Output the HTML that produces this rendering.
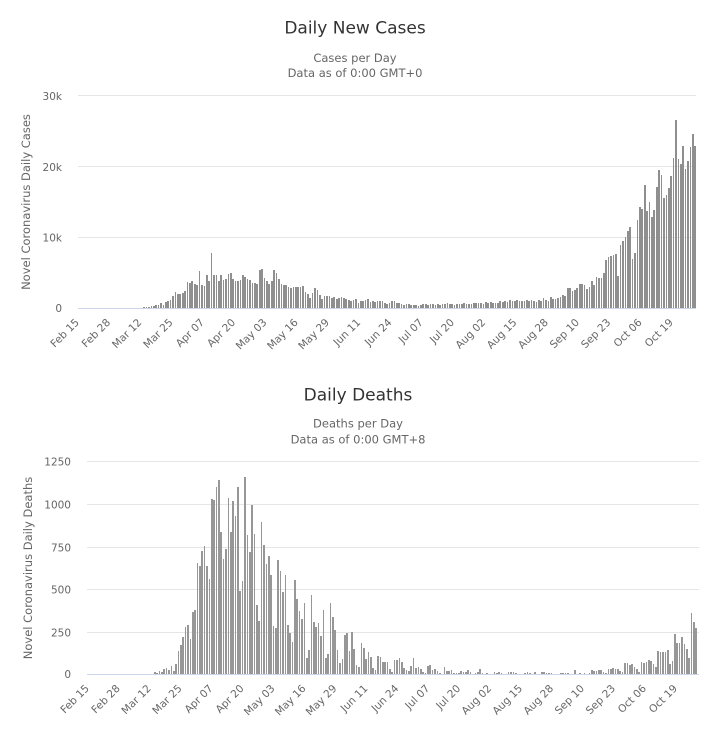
<!DOCTYPE html>
<html><head><meta charset="utf-8">
<style>
html,body{margin:0;padding:0}
body{width:728px;height:735px;background:#fff;position:relative;overflow:hidden;font-family:"DejaVu Sans","Liberation Sans",sans-serif}
svg{position:absolute;left:0;top:0}
.bars{position:absolute;display:flex;align-items:flex-end}
.bars i{flex:1 1 0;min-width:0;margin:0 0.38px;display:block}
#b1 i{background:#8f8f8f}
#b2 i{background:#979797}
.base{position:absolute;height:1px;background:#ccd6eb}
</style></head><body>
<svg width="728" height="735" xmlns="http://www.w3.org/2000/svg" font-family="DejaVu Sans, Liberation Sans, sans-serif">
  <!-- TOP CHART -->
  <text x="355" y="33.5" text-anchor="middle" font-size="17" fill="#333333">Daily New Cases</text>
  <text x="355" y="62" text-anchor="middle" font-size="11.5" fill="#666666">Cases per Day</text>
  <text x="355" y="77" text-anchor="middle" font-size="11.5" fill="#666666">Data as of 0:00 GMT+0</text>
  <g stroke="#e6e6e6" stroke-width="1">
    <line x1="78" x2="696" y1="95.5" y2="95.5"/>
    <line x1="78" x2="696" y1="166.5" y2="166.5"/>
    <line x1="78" x2="696" y1="237.5" y2="237.5"/>
  </g>
  <g font-size="10.5" fill="#666666" text-anchor="end">
    <text x="62" y="100">30k</text>
    <text x="62" y="171">20k</text>
    <text x="62" y="241.5">10k</text>
    <text x="62" y="312">0</text>
  </g>
  <text transform="translate(30,202) rotate(-90)" text-anchor="middle" font-size="11.5" fill="#666666">Novel Coronavirus Daily Cases</text>
  <g font-size="10.5" fill="#666666" text-anchor="end">
    <text x="79.7" y="323" transform="rotate(-45 79.7 323)">Feb 15</text>
    <text x="111" y="323" transform="rotate(-45 111 323)">Feb 28</text>
    <text x="142.2" y="323" transform="rotate(-45 142.2 323)">Mar 12</text>
    <text x="173.5" y="323" transform="rotate(-45 173.5 323)">Mar 25</text>
    <text x="204.8" y="323" transform="rotate(-45 204.8 323)">Apr 07</text>
    <text x="236" y="323" transform="rotate(-45 236 323)">Apr 20</text>
    <text x="267.3" y="323" transform="rotate(-45 267.3 323)">May 03</text>
    <text x="298.6" y="323" transform="rotate(-45 298.6 323)">May 16</text>
    <text x="329.8" y="323" transform="rotate(-45 329.8 323)">May 29</text>
    <text x="361.1" y="323" transform="rotate(-45 361.1 323)">Jun 11</text>
    <text x="392.4" y="323" transform="rotate(-45 392.4 323)">Jun 24</text>
    <text x="423.6" y="323" transform="rotate(-45 423.6 323)">Jul 07</text>
    <text x="454.9" y="323" transform="rotate(-45 454.9 323)">Jul 20</text>
    <text x="486.1" y="323" transform="rotate(-45 486.1 323)">Aug 02</text>
    <text x="517.4" y="323" transform="rotate(-45 517.4 323)">Aug 15</text>
    <text x="548.7" y="323" transform="rotate(-45 548.7 323)">Aug 28</text>
    <text x="579.9" y="323" transform="rotate(-45 579.9 323)">Sep 10</text>
    <text x="611.2" y="323" transform="rotate(-45 611.2 323)">Sep 23</text>
    <text x="642.5" y="323" transform="rotate(-45 642.5 323)">Oct 06</text>
    <text x="673.7" y="323" transform="rotate(-45 673.7 323)">Oct 19</text>
  </g>

  <!-- BOTTOM CHART -->
  <text x="358" y="400.5" text-anchor="middle" font-size="17" fill="#333333">Daily Deaths</text>
  <text x="358" y="427.5" text-anchor="middle" font-size="11.5" fill="#666666">Deaths per Day</text>
  <text x="358" y="443.5" text-anchor="middle" font-size="11.5" fill="#666666">Data as of 0:00 GMT+8</text>
  <g stroke="#e6e6e6" stroke-width="1">
    <line x1="87" x2="699" y1="461.5" y2="461.5"/>
    <line x1="87" x2="699" y1="504.5" y2="504.5"/>
    <line x1="87" x2="699" y1="547.5" y2="547.5"/>
    <line x1="87" x2="699" y1="589.5" y2="589.5"/>
    <line x1="87" x2="699" y1="632.5" y2="632.5"/>
  </g>
  <g font-size="10.5" fill="#666666" text-anchor="end">
    <text x="71" y="465.5">1250</text>
    <text x="71" y="508.5">1000</text>
    <text x="71" y="551.5">750</text>
    <text x="71" y="593.5">500</text>
    <text x="71" y="636.5">250</text>
    <text x="71" y="678">0</text>
  </g>
  <text transform="translate(32,568) rotate(-90)" text-anchor="middle" font-size="11.5" fill="#666666">Novel Coronavirus Daily Deaths</text>
  <g font-size="10.5" fill="#666666" text-anchor="end">
    <text x="89.7" y="689" transform="rotate(-45 89.7 689)">Feb 15</text>
    <text x="120.6" y="689" transform="rotate(-45 120.6 689)">Feb 28</text>
    <text x="151.6" y="689" transform="rotate(-45 151.6 689)">Mar 12</text>
    <text x="182.5" y="689" transform="rotate(-45 182.5 689)">Mar 25</text>
    <text x="213.5" y="689" transform="rotate(-45 213.5 689)">Apr 07</text>
    <text x="244.5" y="689" transform="rotate(-45 244.5 689)">Apr 20</text>
    <text x="275.4" y="689" transform="rotate(-45 275.4 689)">May 03</text>
    <text x="306.4" y="689" transform="rotate(-45 306.4 689)">May 16</text>
    <text x="337.3" y="689" transform="rotate(-45 337.3 689)">May 29</text>
    <text x="368.3" y="689" transform="rotate(-45 368.3 689)">Jun 11</text>
    <text x="399.2" y="689" transform="rotate(-45 399.2 689)">Jun 24</text>
    <text x="430.2" y="689" transform="rotate(-45 430.2 689)">Jul 07</text>
    <text x="461.1" y="689" transform="rotate(-45 461.1 689)">Jul 20</text>
    <text x="492.1" y="689" transform="rotate(-45 492.1 689)">Aug 02</text>
    <text x="523" y="689" transform="rotate(-45 523 689)">Aug 15</text>
    <text x="554" y="689" transform="rotate(-45 554 689)">Aug 28</text>
    <text x="584.9" y="689" transform="rotate(-45 584.9 689)">Sep 10</text>
    <text x="615.9" y="689" transform="rotate(-45 615.9 689)">Sep 23</text>
    <text x="646.8" y="689" transform="rotate(-45 646.8 689)">Oct 06</text>
    <text x="677.8" y="689" transform="rotate(-45 677.8 689)">Oct 19</text>
  </g>
</svg>

<div class="bars" id="b1" style="left:78px;top:108px;width:618px;height:200px">
<i style="height:0"></i><i style="height:0"></i><i style="height:0"></i><i style="height:0"></i><i style="height:0"></i><i style="height:0"></i><i style="height:0"></i><i style="height:0"></i><i style="height:0"></i><i style="height:0"></i><i style="height:0"></i><i style="height:0"></i><i style="height:0"></i><i style="height:0"></i><i style="height:0"></i><i style="height:0"></i><i style="height:0"></i><i style="height:0"></i><i style="height:0"></i><i style="height:0"></i><i style="height:0"></i><i style="height:0"></i><i style="height:0"></i><i style="height:0"></i><i style="height:0"></i><i style="height:0"></i>
<i style="height:0.3px"></i><i style="height:0.7px"></i><i style="height:0.7px"></i><i style="height:1px"></i><i style="height:1.7px"></i><i style="height:2.3px"></i><i style="height:2.7px"></i><i style="height:3.3px"></i><i style="height:4.7px"></i><i style="height:3.3px"></i>
<i style="height:6px"></i><i style="height:7.3px"></i><i style="height:7.7px"></i><i style="height:12px"></i><i style="height:16px"></i><i style="height:14.3px"></i><i style="height:14.3px"></i><i style="height:15.3px"></i><i style="height:17.3px"></i><i style="height:26.3px"></i>
<i style="height:25.3px"></i><i style="height:27px"></i><i style="height:24.3px"></i><i style="height:22.7px"></i><i style="height:36.7px"></i><i style="height:22.7px"></i><i style="height:22px"></i><i style="height:33.3px"></i><i style="height:27px"></i><i style="height:55px"></i>
<i style="height:32.7px"></i><i style="height:32.7px"></i><i style="height:26.7px"></i><i style="height:32.7px"></i><i style="height:27.7px"></i><i style="height:29.3px"></i><i style="height:34.3px"></i><i style="height:35.3px"></i><i style="height:28.7px"></i><i style="height:26.7px"></i>
<i style="height:27.3px"></i><i style="height:28.3px"></i><i style="height:33px"></i><i style="height:31px"></i><i style="height:29.3px"></i><i style="height:28px"></i><i style="height:25px"></i><i style="height:25px"></i><i style="height:24.3px"></i><i style="height:38.3px"></i>
<i style="height:39px"></i><i style="height:30px"></i><i style="height:27px"></i><i style="height:24.3px"></i><i style="height:26.7px"></i><i style="height:37.7px"></i><i style="height:35.3px"></i><i style="height:29.3px"></i><i style="height:24px"></i><i style="height:23.3px"></i>
<i style="height:23.3px"></i><i style="height:21px"></i><i style="height:20px"></i><i style="height:21px"></i><i style="height:21.3px"></i><i style="height:20.7px"></i><i style="height:21px"></i><i style="height:21.7px"></i><i style="height:16px"></i><i style="height:14px"></i>
<i style="height:10px"></i><i style="height:15.3px"></i><i style="height:19.7px"></i><i style="height:17.7px"></i><i style="height:12.7px"></i><i style="height:9.3px"></i><i style="height:12px"></i><i style="height:12px"></i><i style="height:11.7px"></i>
<i style="height:10px"></i><i style="height:11px"></i><i style="height:9.3px"></i><i style="height:10.3px"></i><i style="height:11px"></i><i style="height:10.3px"></i><i style="height:9.3px"></i><i style="height:7.7px"></i><i style="height:6.7px"></i><i style="height:8px"></i>
<i style="height:9.3px"></i><i style="height:5.3px"></i><i style="height:7px"></i><i style="height:7.3px"></i><i style="height:8px"></i><i style="height:8.7px"></i><i style="height:6px"></i><i style="height:6.7px"></i><i style="height:6px"></i><i style="height:7px"></i>
<i style="height:7.3px"></i><i style="height:6.7px"></i><i style="height:5.3px"></i><i style="height:4.3px"></i><i style="height:5px"></i><i style="height:6.7px"></i><i style="height:7.3px"></i><i style="height:4.7px"></i><i style="height:5.3px"></i><i style="height:4px"></i>
<i style="height:3.3px"></i><i style="height:4px"></i><i style="height:3.7px"></i><i style="height:2.7px"></i><i style="height:3.3px"></i><i style="height:3px"></i><i style="height:2px"></i><i style="height:3.3px"></i><i style="height:3.7px"></i><i style="height:4px"></i>
<i style="height:3.3px"></i><i style="height:4.3px"></i><i style="height:4px"></i><i style="height:3.3px"></i><i style="height:3.7px"></i><i style="height:2.7px"></i><i style="height:4.3px"></i><i style="height:4px"></i><i style="height:5px"></i><i style="height:3.7px"></i>
<i style="height:4px"></i><i style="height:3px"></i><i style="height:4.3px"></i><i style="height:3.7px"></i><i style="height:4px"></i><i style="height:4.7px"></i><i style="height:3.7px"></i><i style="height:4.3px"></i><i style="height:4px"></i><i style="height:4.7px"></i>
<i style="height:4.7px"></i><i style="height:5px"></i><i style="height:4.7px"></i><i style="height:4px"></i><i style="height:6px"></i><i style="height:4.7px"></i><i style="height:5.7px"></i><i style="height:5.3px"></i><i style="height:4.7px"></i><i style="height:5.3px"></i>
<i style="height:6.7px"></i><i style="height:6px"></i><i style="height:7.3px"></i><i style="height:6px"></i><i style="height:8.3px"></i><i style="height:7px"></i><i style="height:6.7px"></i><i style="height:7.7px"></i>
<i style="height:7px"></i><i style="height:7.3px"></i><i style="height:7px"></i><i style="height:7.7px"></i><i style="height:7px"></i><i style="height:7.7px"></i><i style="height:7.3px"></i><i style="height:6.3px"></i><i style="height:7.7px"></i><i style="height:7px"></i>
<i style="height:9.7px"></i><i style="height:8px"></i><i style="height:7.3px"></i><i style="height:10.7px"></i><i style="height:9.3px"></i><i style="height:8.7px"></i><i style="height:9.7px"></i><i style="height:11.3px"></i><i style="height:13px"></i><i style="height:12px"></i>
<i style="height:19.7px"></i><i style="height:19.7px"></i><i style="height:17px"></i><i style="height:18px"></i><i style="height:19.7px"></i><i style="height:24px"></i><i style="height:24px"></i><i style="height:23px"></i><i style="height:18.7px"></i><i style="height:21.3px"></i>
<i style="height:26.7px"></i><i style="height:23.3px"></i><i style="height:30.7px"></i><i style="height:29.7px"></i><i style="height:29.7px"></i>
<i style="height:34.7px"></i><i style="height:48px"></i><i style="height:50.7px"></i><i style="height:52px"></i><i style="height:53px"></i><i style="height:53.7px"></i><i style="height:32.3px"></i><i style="height:63px"></i><i style="height:66.7px"></i><i style="height:70.7px"></i>
<i style="height:77px"></i><i style="height:81.3px"></i><i style="height:49px"></i><i style="height:54.7px"></i><i style="height:88px"></i><i style="height:101.3px"></i><i style="height:99px"></i><i style="height:123px"></i><i style="height:97.3px"></i><i style="height:106.3px"></i>
<i style="height:90.7px"></i><i style="height:98px"></i><i style="height:120.7px"></i><i style="height:138px"></i><i style="height:133px"></i><i style="height:110.3px"></i><i style="height:113px"></i><i style="height:119.7px"></i><i style="height:132px"></i><i style="height:149.7px"></i>
<i style="height:188px"></i><i style="height:148.7px"></i><i style="height:144px"></i><i style="height:162px"></i><i style="height:138.7px"></i><i style="height:147px"></i><i style="height:161.3px"></i><i style="height:174px"></i><i style="height:162.3px"></i>
</div>
<div class="base" style="left:78px;top:308px;width:618px"></div>

<div class="bars" id="b2" style="left:87px;top:474px;width:612px;height:200px">
<i style="height:0"></i><i style="height:0"></i><i style="height:0"></i><i style="height:0"></i><i style="height:0"></i><i style="height:0"></i><i style="height:0"></i><i style="height:0"></i><i style="height:0"></i><i style="height:0"></i><i style="height:0"></i><i style="height:0"></i><i style="height:0"></i><i style="height:0"></i><i style="height:0"></i><i style="height:0"></i><i style="height:0"></i><i style="height:0"></i><i style="height:0"></i><i style="height:0"></i><i style="height:0"></i><i style="height:0"></i><i style="height:0"></i><i style="height:0"></i><i style="height:0"></i><i style="height:0"></i><i style="height:0"></i><i style="height:0"></i>
<i style="height:2px"></i><i style="height:1.3px"></i><i style="height:3px"></i><i style="height:2.3px"></i><i style="height:5px"></i><i style="height:6px"></i><i style="height:4px"></i><i style="height:8px"></i><i style="height:3.3px"></i><i style="height:10.3px"></i>
<i style="height:23px"></i><i style="height:29.3px"></i><i style="height:37.3px"></i><i style="height:47.3px"></i><i style="height:49px"></i><i style="height:35px"></i><i style="height:62px"></i><i style="height:64px"></i><i style="height:110.7px"></i><i style="height:108.3px"></i>
<i style="height:123px"></i><i style="height:128px"></i><i style="height:108px"></i><i style="height:95.3px"></i><i style="height:175px"></i><i style="height:174px"></i><i style="height:187.3px"></i><i style="height:194px"></i><i style="height:142px"></i><i style="height:115px"></i>
<i style="height:125px"></i><i style="height:176px"></i><i style="height:142.3px"></i><i style="height:172.7px"></i><i style="height:158px"></i><i style="height:187.3px"></i><i style="height:83.3px"></i><i style="height:93px"></i><i style="height:197.3px"></i><i style="height:139px"></i>
<i style="height:121.7px"></i><i style="height:169.3px"></i><i style="height:139.7px"></i><i style="height:68.7px"></i><i style="height:53.3px"></i><i style="height:152px"></i><i style="height:129px"></i><i style="height:110px"></i><i style="height:118px"></i><i style="height:99.3px"></i>
<i style="height:48px"></i><i style="height:46.3px"></i><i style="height:114px"></i><i style="height:103.3px"></i><i style="height:82.3px"></i><i style="height:98.7px"></i><i style="height:49px"></i><i style="height:40.7px"></i><i style="height:32.3px"></i><i style="height:94px"></i>
<i style="height:74.7px"></i><i style="height:63px"></i><i style="height:55.3px"></i><i style="height:70.7px"></i><i style="height:16.3px"></i><i style="height:24px"></i><i style="height:79px"></i><i style="height:51.7px"></i><i style="height:47.3px"></i><i style="height:50.7px"></i>
<i style="height:38.3px"></i><i style="height:64px"></i><i style="height:16px"></i><i style="height:20px"></i>
<i style="height:70.7px"></i><i style="height:57.3px"></i><i style="height:44px"></i><i style="height:24px"></i><i style="height:11.3px"></i><i style="height:14.7px"></i><i style="height:39px"></i><i style="height:40.7px"></i><i style="height:23.3px"></i><i style="height:42.3px"></i>
<i style="height:25px"></i><i style="height:9px"></i><i style="height:7.3px"></i><i style="height:30.7px"></i><i style="height:25.7px"></i><i style="height:14.7px"></i><i style="height:21.7px"></i><i style="height:17.3px"></i><i style="height:5.7px"></i><i style="height:4px"></i>
<i style="height:18px"></i><i style="height:16.7px"></i><i style="height:12px"></i><i style="height:12px"></i><i style="height:12px"></i><i style="height:5.3px"></i><i style="height:2px"></i><i style="height:14px"></i><i style="height:14px"></i><i style="height:15.7px"></i>
<i style="height:12px"></i><i style="height:6px"></i><i style="height:4px"></i><i style="height:3px"></i><i style="height:8px"></i><i style="height:15.7px"></i><i style="height:6.3px"></i><i style="height:7.3px"></i><i style="height:4.7px"></i><i style="height:2.3px"></i>
<i style="height:1.3px"></i><i style="height:8px"></i><i style="height:9px"></i><i style="height:4px"></i><i style="height:5px"></i><i style="height:2.7px"></i><i style="height:1.3px"></i><i style="height:0"></i><i style="height:6.7px"></i><i style="height:3px"></i>
<i style="height:3px"></i><i style="height:3.7px"></i><i style="height:1.3px"></i><i style="height:1.3px"></i><i style="height:1.3px"></i><i style="height:3px"></i><i style="height:1.7px"></i><i style="height:1.7px"></i><i style="height:3.7px"></i><i style="height:1.7px"></i>
<i style="height:0"></i><i style="height:1.3px"></i><i style="height:2.3px"></i><i style="height:4.7px"></i><i style="height:1.3px"></i><i style="height:0"></i><i style="height:1px"></i><i style="height:0"></i><i style="height:0"></i><i style="height:1.7px"></i>
<i style="height:1px"></i><i style="height:1.7px"></i><i style="height:1px"></i><i style="height:0"></i><i style="height:0"></i><i style="height:1.7px"></i>
<i style="height:2px"></i><i style="height:2px"></i><i style="height:1px"></i><i style="height:0"></i><i style="height:0"></i><i style="height:0"></i><i style="height:1.3px"></i><i style="height:2px"></i><i style="height:0.7px"></i><i style="height:0"></i>
<i style="height:2px"></i><i style="height:0"></i><i style="height:0"></i><i style="height:2px"></i><i style="height:2px"></i><i style="height:1px"></i><i style="height:1px"></i><i style="height:1px"></i><i style="height:0"></i><i style="height:0"></i>
<i style="height:0"></i><i style="height:1px"></i><i style="height:1px"></i><i style="height:1px"></i><i style="height:1px"></i><i style="height:0"></i><i style="height:0"></i><i style="height:4px"></i><i style="height:0"></i><i style="height:1px"></i>
<i style="height:0"></i><i style="height:1px"></i><i style="height:0"></i><i style="height:1px"></i><i style="height:4px"></i><i style="height:2.7px"></i><i style="height:3.3px"></i><i style="height:4px"></i><i style="height:4px"></i><i style="height:2px"></i>
<i style="height:1.3px"></i><i style="height:5px"></i><i style="height:5px"></i><i style="height:6px"></i><i style="height:5px"></i><i style="height:5px"></i><i style="height:2.7px"></i><i style="height:1.7px"></i><i style="height:11px"></i><i style="height:11px"></i>
<i style="height:9px"></i><i style="height:10px"></i><i style="height:7px"></i><i style="height:5px"></i><i style="height:2px"></i><i style="height:12px"></i><i style="height:11.3px"></i><i style="height:12px"></i><i style="height:14px"></i><i style="height:13px"></i>
<i style="height:10px"></i><i style="height:7px"></i><i style="height:23px"></i><i style="height:22px"></i><i style="height:22px"></i><i style="height:22px"></i><i style="height:24px"></i><i style="height:10px"></i><i style="height:13px"></i><i style="height:40px"></i>
<i style="height:31px"></i><i style="height:31px"></i><i style="height:37px"></i><i style="height:30px"></i><i style="height:25px"></i><i style="height:16px"></i><i style="height:60.7px"></i><i style="height:52px"></i><i style="height:46px"></i>
</div>
<div class="base" style="left:87px;top:674px;width:612px"></div>
</body></html>
